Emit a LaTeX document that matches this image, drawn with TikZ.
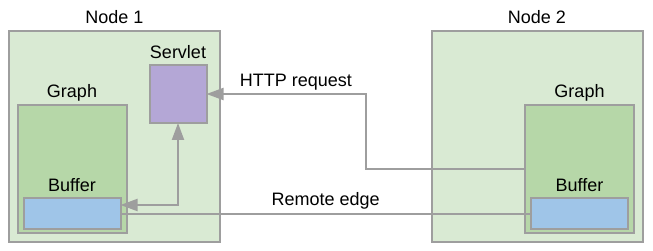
\documentclass[tikz,border=0pt]{standalone}
\usepackage{fontspec}
\setmainfont{Liberation Sans}
\usepackage{xcolor}
\usetikzlibrary{arrows.meta, positioning, calc}
\definecolor{hostfill}{HTML}{D9EAD3}
\definecolor{graphfill}{HTML}{B6D7A8}
\definecolor{servfill}{HTML}{B4A7D6}
\definecolor{buffill}{HTML}{9FC5E8}
\definecolor{edgegray}{HTML}{9E9E9E}

\begin{document}
\begin{tikzpicture}[
    x=1pt, y=-1pt,
    box/.style={rectangle, draw=edgegray, line width=2pt, inner sep=0pt, outer sep=0pt},
    host/.style={box, fill=hostfill, minimum width=211pt, minimum height=211pt},
    graphbox/.style={box, fill=graphfill, minimum width=109pt, minimum height=128pt},
    bufbox/.style={box, fill=buffill, minimum width=97pt, minimum height=31pt},
    servbox/.style={box, fill=servfill, minimum width=57pt, minimum height=58pt},
    lbl/.style={font=\fontsize{18}{21}\selectfont, anchor=base, inner sep=0pt},
    elbl/.style={font=\fontsize{18}{21}\selectfont, anchor=base, inner sep=0pt},
    conn/.style={draw=edgegray, line width=2pt},
    arr/.style={conn, -{Triangle[length=17pt, width=12pt]}},
    dblarr/.style={conn, {Triangle[length=17pt, width=12pt]}-{Triangle[length=17pt, width=12pt]}},
]
\useasboundingbox (0,0) rectangle (653,251);

% Node 1
\node[host] (n1) at (114.5,136.5) {};
\node[lbl] (n1lbl) at ([yshift=7pt]n1.north) {Node 1};
\node[servbox] (servlet) at (178,94) {};
\node[lbl] (servlbl) at ([yshift=6.5pt]servlet.north) {Servlet};
\node[graphbox] (g1) at (72,169) {};
\node[lbl] (g1lbl) at ([yshift=7pt]g1.north) {Graph};
\node[bufbox] (b1) at (72,213.5) {};
\node[lbl] (b1lbl) at ([yshift=6.5pt]b1.north) {Buffer};

% Node 2
\node[host] (n2) at (537,136.5) {};
\node[lbl] (n2lbl) at ([yshift=7pt]n2.north) {Node 2};
\node[graphbox] (g2) at (579.5,169) {};
\node[lbl] (g2lbl) at ([yshift=7pt]g2.north) {Graph};
\node[bufbox] (b2) at (579.5,213.5) {};
\node[lbl] (b2lbl) at ([yshift=6.5pt]b2.north) {Buffer};

% Connections
\draw[dblarr] ([yshift=8.5pt]b1.east) -| (servlet.south);
\draw[arr] (g2.west) -- ++(-159,0) |- (servlet.east)
    node[elbl, pos=.72, yshift=7pt] (httplbl) {HTTP request};
\draw[conn] (b1.east) -- (b2.west)
    node[elbl, midway, yshift=8pt] (remlbl) {Remote edge};

\end{tikzpicture}
\end{document}
